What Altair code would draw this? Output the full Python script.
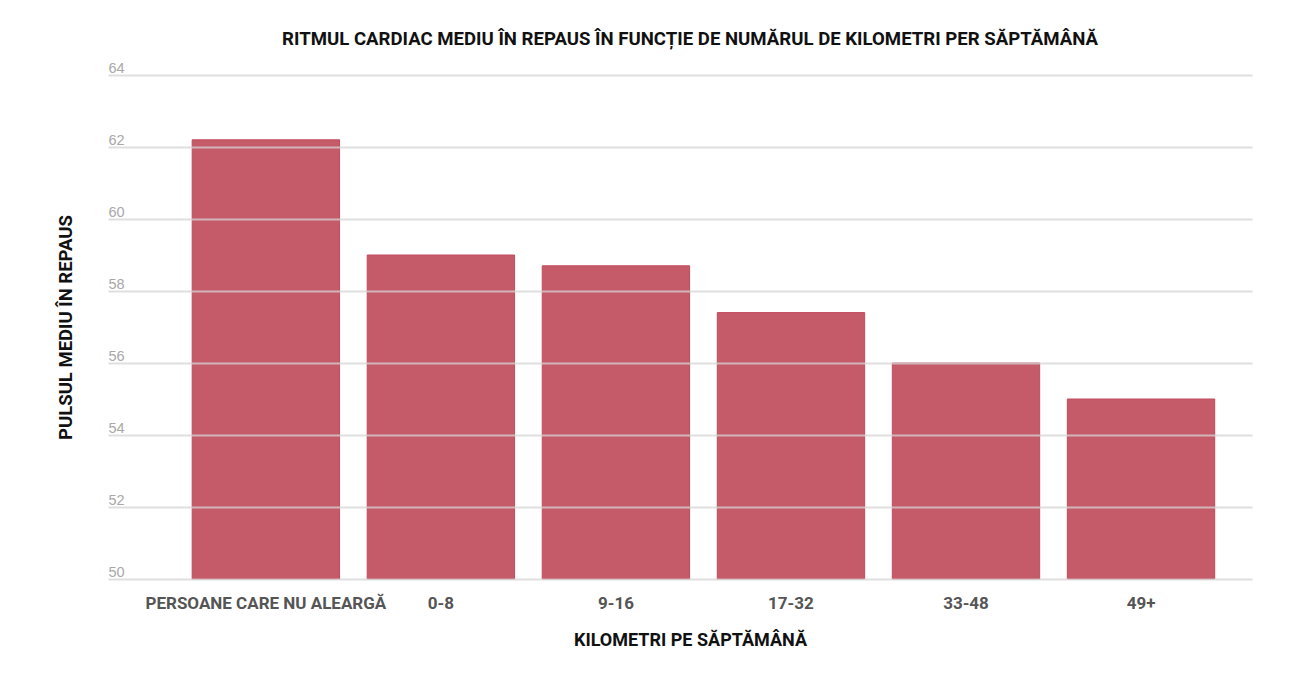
import altair as alt
import pandas as pd

categories = ["PERSOANE CARE NU ALEARGĂ", "0-8", "9-16", "17-32", "33-48", "49+"]
values = [62.2, 59.0, 58.7, 57.4, 56.0, 55.0]
y_ticks = [50, 52, 54, 56, 58, 60, 62, 64]
y_base = 50

df = pd.DataFrame({"cat": categories, "val": values})

COND = "Roboto"

bars = alt.Chart(df).mark_bar(
    color="#c55a69", stroke="#c24a5e", strokeWidth=1
).encode(
    x=alt.X("cat:N", sort=categories,
            scale=alt.Scale(paddingInner=0.158, paddingOuter=0.347, align=0.693),
            axis=alt.Axis(title="KILOMETRI PE SĂPTĂMÂNĂ", labelAngle=0, ticks=False, tickSize=0,
                          domain=False, labelFont=COND, labelFontSize=17, labelFontWeight="bold",
                          labelColor="#555555", labelBaseline="alphabetic", labelPadding=29,
                          titleFont=COND, titleFontSize=18, titleFontWeight="bold", titleColor="#111111",
                          titleX=582, titleY=66, titleAlign="center", titleBaseline="alphabetic",
                          labelLimit=400)),
    y=alt.Y("val:Q",
            scale=alt.Scale(domain=[50, 64], nice=False, zero=False),
            axis=alt.Axis(title="PULSUL MEDIU ÎN REPAUS", values=y_ticks, ticks=False, tickSize=0,
                          domain=False, grid=True, gridColor="#d4d4d4", gridWidth=2, gridOpacity=0.75,
                          zindex=1, labelAlign="left", labelPadding=0, labelBaseline="alphabetic",
                          labelOffset=-3, labelFlush=False, labelColor="#a8a8a8", labelFontSize=14.5,
                          labelFont="Liberation Sans",
                          titleFont=COND, titleFontSize=18.5, titleFontWeight="bold", titleColor="#111111",
                          titleX=-43, titleY=252, titleAngle=270, titleAlign="center",
                          titleBaseline="middle")),
    y2=alt.datum(y_base),
)

chart = bars.properties(
    width=1144, height=504,
    background="white",
    padding={"left": 100, "top": 67, "right": 40, "bottom": 93},
    autosize=alt.AutoSizeParams(type="none"),
    title=alt.TitleParams(
        "RITMUL CARDIAC MEDIU ÎN REPAUS ÎN FUNCȚIE DE NUMĂRUL DE KILOMETRI PER SĂPTĂMÂNĂ",
        font=COND, fontSize=18.6, fontWeight="bold", color="#111111",
        anchor="middle", dx=10, dy=32, baseline="alphabetic", offset=28),
).configure_view(stroke=None)

chart.save("out.html", embed_options={"renderer": "svg", "actions": False})
